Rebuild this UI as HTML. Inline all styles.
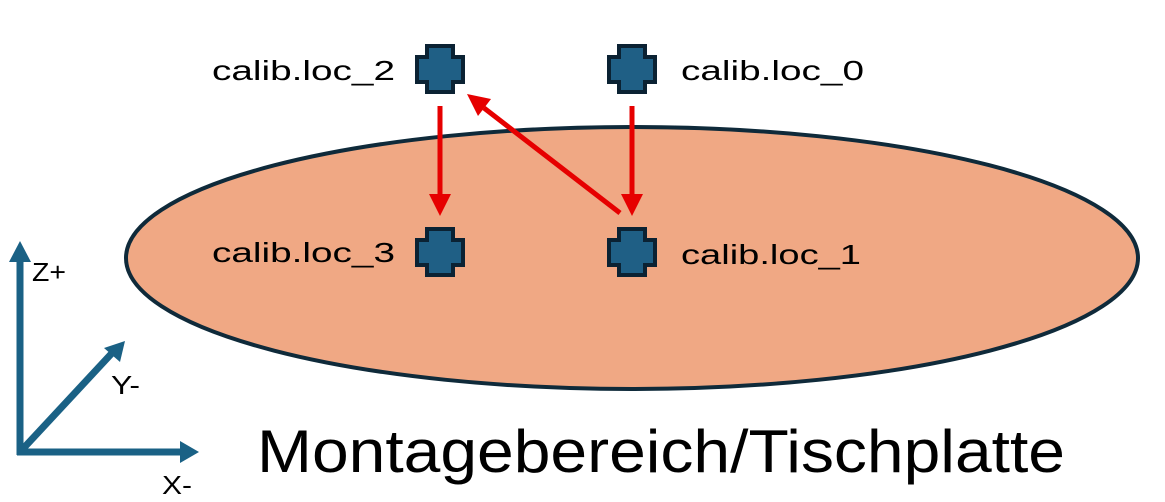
<!DOCTYPE html>
<html><head><meta charset="utf-8"><style>
body{margin:0;background:#fff;width:1165px;height:502px;overflow:hidden}
svg{display:block}
text{font-family:"Liberation Sans",sans-serif;fill:#000}
</style></head><body>
<svg width="1165" height="502" viewBox="0 0 1165 502">
<defs>
<g id="cr"><path d="M-13,-23H13V-12H23V13H13V23H-13V13H-23V-12H-13Z" fill="#1f5f85" stroke="#0b2233" stroke-width="4" stroke-linejoin="miter"/></g>
</defs>
<ellipse cx="632" cy="258" rx="506" ry="131" fill="#f0a884" stroke="#0f2a3a" stroke-width="4"/>
<use href="#cr" x="440" y="69"/><use href="#cr" x="632" y="69"/>
<use href="#cr" x="440" y="252"/><use href="#cr" x="632" y="252"/>
<g stroke="#e60000" stroke-width="5" fill="none">
<line x1="440" y1="106" x2="440" y2="196"/>
<line x1="632" y1="106" x2="632" y2="196"/>
<line x1="620" y1="213" x2="484" y2="108"/>
</g>
<path d="M429,194L451,194L440,216Z" fill="#e60000"/>
<path d="M621,194L643,194L632,216Z" fill="#e60000"/>
<path d="M467,94L491,99L478,116Z" fill="#e60000"/>
<g font-size="28">
<text x="212" y="80" textLength="183" lengthAdjust="spacingAndGlyphs">calib.loc_2</text>
<text x="681" y="80" textLength="183" lengthAdjust="spacingAndGlyphs">calib.loc_0</text>
<text x="212" y="262" textLength="183" lengthAdjust="spacingAndGlyphs">calib.loc_3</text>
<text x="681" y="264" textLength="180" lengthAdjust="spacingAndGlyphs">calib.loc_1</text>
</g>
<g stroke="#1a6185" stroke-width="7" fill="none">
<line x1="20" y1="455" x2="20" y2="258"/>
<line x1="17" y1="452" x2="182" y2="452"/>
<line x1="20" y1="452" x2="113" y2="352"/>
</g>
<path d="M9,262L31,262L20,241Z" fill="#1a6185"/>
<path d="M180,441L180,463L199,452Z" fill="#1a6185"/>
<path d="M104,348L120,362L125,341Z" fill="#1a6185"/>
<g font-size="26">
<text x="32" y="281" textLength="34" lengthAdjust="spacingAndGlyphs">Z+</text>
<text x="111" y="394" textLength="29" lengthAdjust="spacingAndGlyphs">Y-</text>
<text x="162" y="494" textLength="30" lengthAdjust="spacingAndGlyphs">X-</text>
</g>
<text x="257" y="472" font-size="60" textLength="808" lengthAdjust="spacingAndGlyphs">Montagebereich/Tischplatte</text>
</svg>
</body></html>
